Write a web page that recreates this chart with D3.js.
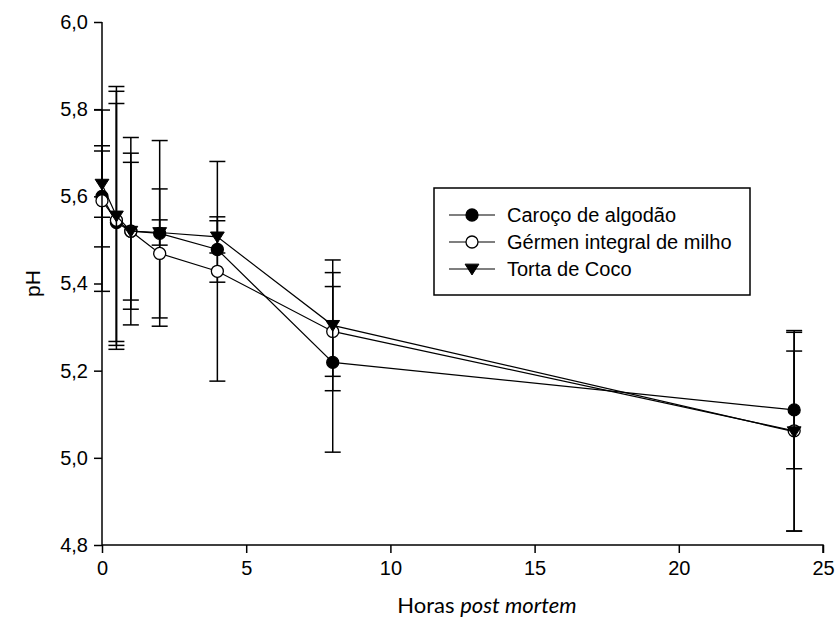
<!DOCTYPE html>
<html>
<head>
<meta charset="utf-8">
<script src="https://cdn.jsdelivr.net/npm/d3@7"></script>
<style>
  html, body { margin: 0; padding: 0; background: #fff; }
  svg { display: block; }
</style>
</head>
<body>
<svg id="chart" width="837" height="624"></svg>
<script>
// ---- data ----
const hours = [0, 0.5, 1, 2, 4, 8, 24];
const seriesNames = ["Caroço de algodão", "Gérmen integral de milho", "Torta de Coco"];
const caroco     = [5.600, 5.540, 5.520, 5.515, 5.478, 5.219, 5.110];
const carocoErr  = [0.116, 0.273, 0.158, 0.213, 0.075, 0.206, 0.135];
const germen     = [5.590, 5.545, 5.520, 5.469, 5.428, 5.290, 5.062];
const germenErr  = [0.208, 0.296, 0.215, 0.148, 0.252, 0.103, 0.230];
const torta      = [5.628, 5.555, 5.520, 5.517, 5.507, 5.304, 5.060];
const tortaErr   = [0.076, 0.297, 0.179, 0.029, 0.037, 0.150, 0.228];
const xTicks = [0, 5, 10, 15, 20, 25];
const yTicks = [4.8, 5.0, 5.2, 5.4, 5.6, 5.8, 6.0];
const xTitle = ["Horas ", "post mortem"];
const yTitle = "pH";

(function () {
// ---- layout ----
const svg = d3.select("#chart");
const pLeft = 102, pRight = 823, pTop = 22, pBottom = 545;
const x = d3.scaleLinear().domain([0, 25]).range([pLeft, pRight]);
const y = d3.scaleLinear().domain([4.8, 6.0]).range([pBottom, pTop]);
const fmt = d => d3.format(".1f")(d).replace(".", ",");
const font = "'Liberation Sans', Arial, sans-serif";

// axes
const yAxis = svg.append("g").attr("transform", `translate(${pLeft},0)`)
  .call(d3.axisLeft(y).tickValues(yTicks).tickFormat(fmt).tickSize(8).tickPadding(6));
const xAxis = svg.append("g").attr("transform", `translate(0,${pBottom})`)
  .call(d3.axisBottom(x).tickValues(xTicks).tickFormat(d3.format("d")).tickSize(8).tickPadding(8));
[yAxis, xAxis].forEach(a => {
  a.select(".domain").attr("stroke", "#000").attr("stroke-width", 1.5);
  a.selectAll(".tick line").attr("stroke", "#000").attr("stroke-width", 1.5);
  a.selectAll(".tick text").attr("fill", "#000").style("font-family", font).style("font-size", "20px");
});
yAxis.select(".domain").attr("d", `M0,${pTop}V${pBottom}`);
xAxis.select(".domain").attr("d", `M${pLeft},0H${pRight}V8`);

// titles
svg.append("text").attr("transform", `translate(40,${(pTop + pBottom) / 2}) rotate(-90)`)
  .attr("text-anchor", "middle").style("font-family", font).style("font-size", "21px").text(yTitle);
const xt = svg.append("text").attr("x", 487).attr("y", 613).attr("text-anchor", "middle")
  .style("font-family", "Lato, 'Open Sans', sans-serif").style("font-size", "22px");
xt.append("tspan").text(xTitle[0]);
xt.append("tspan").style("font-style", "italic").text(xTitle[1]);

// series
const series = [
  { name: seriesNames[0], vals: caroco, err: carocoErr, sym: "circle", fill: "#000" },
  { name: seriesNames[1], vals: germen, err: germenErr, sym: "circle", fill: "#fff" },
  { name: seriesNames[2], vals: torta, err: tortaErr, sym: "triangle", fill: "#000" }
];
const capW = 8;

function drawSymbol(g, s, cx, cy, r) {
  if (s.sym === "circle") {
    g.append("circle").attr("cx", cx).attr("cy", cy).attr("r", r)
      .attr("fill", s.fill).attr("stroke", "#000").attr("stroke-width", 1.3);
  } else {
    const h = r * 1.8;
    g.append("path")
      .attr("d", `M${cx - r * 1.15},${cy - h * 0.45}L${cx + r * 1.15},${cy - h * 0.45}L${cx},${cy + h * 0.55}Z`)
      .attr("fill", s.fill).attr("stroke", "#000").attr("stroke-width", 1);
  }
}

series.forEach(s => {
  const g = svg.append("g");
  hours.forEach((h, i) => {
    const cx = x(h), hi = y(s.vals[i] + s.err[i]), lo = y(s.vals[i] - s.err[i]);
    g.append("line").attr("x1", cx).attr("x2", cx).attr("y1", hi).attr("y2", lo)
      .attr("stroke", "#000").attr("stroke-width", 1.5);
    [hi, lo].forEach(yy => g.append("line").attr("x1", cx - capW).attr("x2", cx + capW)
      .attr("y1", yy).attr("y2", yy).attr("stroke", "#000").attr("stroke-width", 1.5));
  });
  g.append("path").datum(hours.map((h, i) => [h, s.vals[i]]))
    .attr("d", d3.line().x(d => x(d[0])).y(d => y(d[1])))
    .attr("fill", "none").attr("stroke", "#000").attr("stroke-width", 1.2);
  hours.forEach((h, i) => drawSymbol(g, s, x(h), y(s.vals[i]), 6));
});

// legend
const lg = svg.append("g");
lg.append("rect").attr("x", 434).attr("y", 188).attr("width", 316).attr("height", 107)
  .attr("fill", "#fff").attr("stroke", "#000").attr("stroke-width", 1.5);
series.forEach((s, i) => {
  const yy = 215 + i * 27;
  lg.append("line").attr("x1", 449).attr("x2", 495).attr("y1", yy).attr("y2", yy)
    .attr("stroke", "#000").attr("stroke-width", 1.2);
  drawSymbol(lg, s, 472, yy, 6);
  lg.append("text").attr("x", 507).attr("y", yy + 7).style("font-family", font)
    .style("font-size", "20px").text(s.name);
});
})();
</script>
</body>
</html>
